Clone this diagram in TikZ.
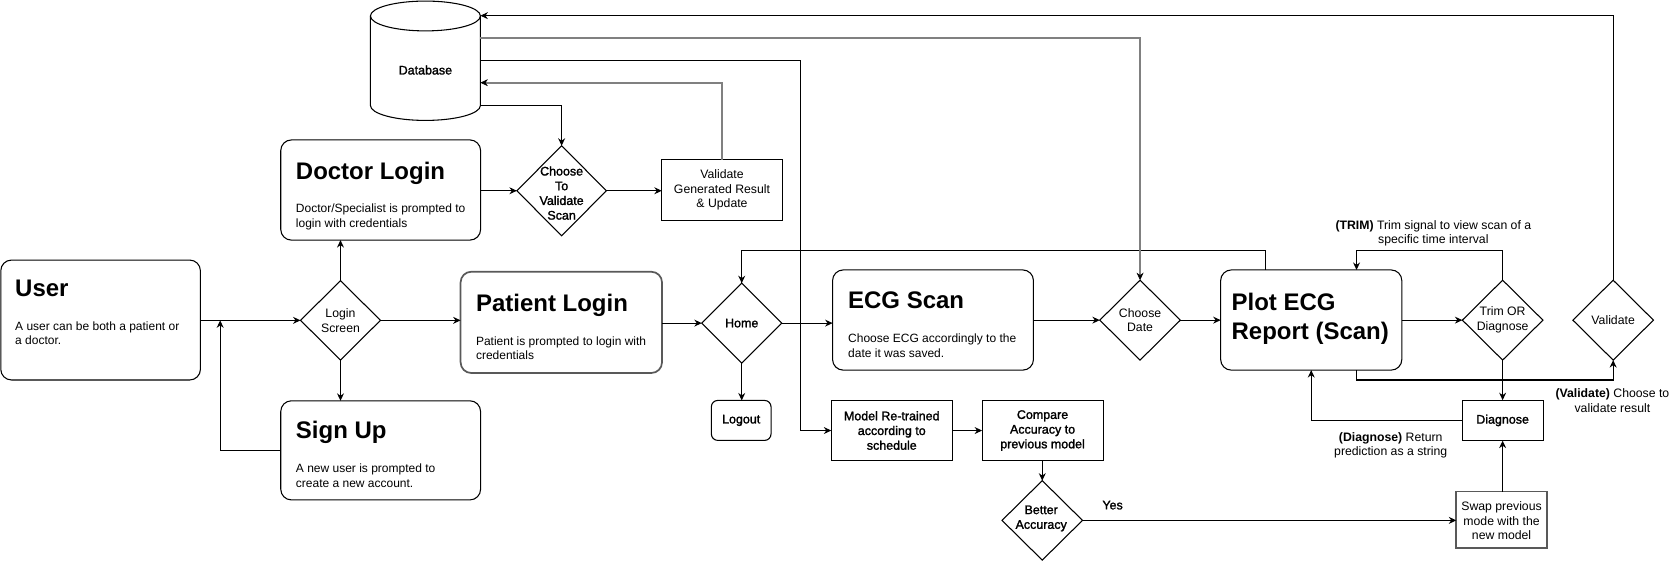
\documentclass[tikz,border=0pt]{standalone}
\usepackage{fontspec}
\setmainfont{Liberation Sans}
\newfontfamily\semibf[FakeBold=1.6]{Liberation Sans}
\usetikzlibrary{shapes.geometric,arrows.meta,calc}
\begin{document}
\begin{tikzpicture}[x=1pt,y=-1pt,
  ln/.style={line width=1pt, draw=black},
  gln/.style={line width=1.8pt, draw=black!50},
  arr/.style={ln, -{Stealth[length=7pt,width=6.5pt]}},
  garr/.style={gln, -{Stealth[length=7pt,width=6.5pt,black,line width=0.5pt]}},
  hbox/.style={draw, line width=1pt, rounded corners=10pt, inner sep=0pt, outer sep=0pt},
  pbox/.style={draw, line width=1pt, inner sep=0pt, outer sep=0pt},
  dia/.style={draw, diamond, line width=1pt, inner sep=0pt, outer sep=0pt},
  ttl/.style={font=\fontsize{22.5}{28}\selectfont\bfseries, inner sep=0pt, anchor=west, text height=16.1pt, text depth=0pt},
  bdy/.style={font=\fontsize{11.26}{13.5}\selectfont, inner sep=0pt, anchor=north west, align=left},
  lbl/.style={font=\fontsize{11.5}{13.8}\selectfont, inner sep=0pt, align=center},
  blbl/.style={font=\fontsize{11.7}{13.8}\selectfont\semibf, inner sep=0pt, align=center}
]
\useasboundingbox (0,0) rectangle (1568,526.4);
\fill[white] (0,0) rectangle (1568,526.4);

% ---------- Database cylinder ----------
\node[inner sep=0pt, outer sep=0pt, minimum width=103.2pt, minimum height=112pt] (db) at (399.2,57) {};
\draw[line width=1pt, fill=white] (db.north west |- 0,15) -- (db.south west |- 0,99)
  arc[start angle=180, end angle=360, x radius=51.6pt, y radius=14pt] -- (db.north east |- 0,15);
\draw[line width=1pt] (399.2,15) ellipse [x radius=51.6pt, y radius=14pt];
\node[blbl] (dbt) at (399.2,65.7) {Database};
\coordinate (dbA) at (450.8,14.7);
\coordinate (dbB) at (450.8,35.5);
\coordinate (dbC) at (450.8,56.6);
\coordinate (dbD) at (450.8,77.6);
\coordinate (dbE) at (450.8,99);

% ---------- heading boxes ----------
\node[hbox, minimum width=187.3pt, minimum height=112.5pt] (user) at (94.4,300.3) {};
\node[ttl] (usert) at (14.1,270.6) {User};
\node[bdy] (userb) at (14.1,301.8) {A user can be both a patient or\\a doctor.};

\node[hbox, minimum width=187.5pt, minimum height=94pt] (doc) at (357.2,178.3) {};
\node[ttl] (doct) at (277.5,160.2) {Doctor Login};
\node[bdy] (docb) at (277.5,191.4) {Doctor/Specialist is prompted to\\login with credentials};

\node[hbox, minimum width=187.5pt, minimum height=93pt] (sign) at (357.2,422.6) {};
\node[ttl] (signt) at (277.5,403.5) {Sign Up};
\node[bdy] (signb) at (277.5,435.4) {A new user is prompted to\\create a new account.};

\node[hbox, draw=black!65, line width=1.6pt, minimum width=189pt, minimum height=95pt] (pat) at (526.7,302.5) {};
\node[ttl] (patt) at (446.5,284.6) {Patient Login};
\node[bdy] (patb) at (446.5,315.9) {Patient is prompted to login with\\credentials};

\node[hbox, minimum width=188.5pt, minimum height=94pt] (ecg) at (875.5,300.3) {};
\node[ttl] (ecgt) at (795.7,281.6) {ECG Scan};
\node[bdy] (ecgb) at (795.7,313.4) {Choose ECG accordingly to the\\date it was saved.};

\node[hbox, minimum width=170pt, minimum height=94pt] (plot) at (1230.4,300.3) {};
\node[ttl] (plott1) at (1155.5,283.7) {Plot ECG};
\node[ttl] (plott2) at (1155.5,310.3) {Report (Scan)};

\node[hbox, rounded corners=6pt, minimum width=56pt, minimum height=37.5pt] (logout) at (695.5,394.5) {};
\node[blbl] (logoutt) at (logout) {Logout};

% ---------- plain boxes ----------
\node[pbox, minimum width=113pt, minimum height=56.5pt] (vgr) at (677.5,178.3) {};
\node[lbl] (vgrt) at (vgr) {Validate\\Generated Result\\\& Update};

\node[pbox, minimum width=113.5pt, minimum height=55.7pt] (model) at (836.8,404) {};
\node[blbl] (modelt) at (model) {Model Re-trained\\according to\\schedule};

\node[pbox, minimum width=113.5pt, minimum height=55.7pt] (comp) at (978.3,404) {};
\node[blbl] (compt) at (comp) {Compare\\Accuracy to\\previous model};

\node[pbox, minimum width=76pt, minimum height=38pt] (diag) at (1410,394.5) {};
\node[blbl] (diagt) at (diag) {Diagnose};

\node[pbox, draw=black!65, line width=1.5pt, minimum width=85pt, minimum height=53pt] (swap) at (1409,487.8) {};
\node[lbl] (swapt) at (1409,488.6) {Swap previous\\mode with the\\new model};

% ---------- diamonds ----------
\node[dia, minimum width=84pt, minimum height=84.5pt] (cv) at (527,179) {};
\node[blbl] (cvt) at (527,181.2) {Choose\\To\\Validate\\Scan};

\node[dia, minimum width=75pt, minimum height=74.5pt] (ls) at (319.5,300.6) {};
\node[lbl] (lst) at (ls) {Login\\Screen};

\node[dia, minimum width=75pt, minimum height=75pt] (home) at (696,303.2) {};
\node[blbl] (homet) at (home) {Home};

\node[dia, minimum width=75.6pt, minimum height=75pt] (cd) at (1069.8,300.4) {};
\node[lbl] (cdt) at (cd) {Choose\\Date};

\node[dia, minimum width=75.6pt, minimum height=75pt] (trim) at (1410,300.4) {};
\node[lbl] (trimt) at (trim) {Trim OR\\Diagnose};

\node[dia, minimum width=75.6pt, minimum height=75pt] (val) at (1513.7,300.4) {};
\node[lbl] (valt) at (val) {Validate};

\node[dia, minimum width=75.5pt, minimum height=74.6pt] (better) at (978,488.3) {};
\node[blbl] (bettert) at (977,486.5) {Better\\Accuracy};

% ---------- annotations ----------
\node[lbl] (trimnote) at (1345,219) {\textbf{(TRIM)} Trim signal to view scan of a\\specific time interval};
\node[lbl] (valnote) at (1513,375.8) {\textbf{(Validate)} Choose to\\validate result};
\node[lbl] (diagnote) at (1305,418) {\textbf{(Diagnose)} Return\\prediction as a string};
\node[blbl] (yes) at (1044,474) {Yes};

% ---------- connectors ----------
\coordinate (j1) at (206.6,300.6);
\draw[arr] (user.east |- ls.west) -- (ls.west);
\draw[arr] (sign.west) -| (j1);
\draw[arr] (ls.north) -- (ls.north |- doc.south);
\draw[arr] (ls.south) -- (ls.south |- sign.north);
\draw[arr] (ls.east) -- (ls.east -| pat.west);

\draw[arr] (doc.east |- cv.west) -- (cv.west);
\draw[arr] (cv.east) -- (cv.east -| vgr.west);
\draw[garr] (vgr.north) |- (dbD);
\draw[arr] (dbE) -| (cv.north);

\draw[arr] (pat.east |- home.west) -- (home.west);
\draw[arr] (home.south) -- (home.south |- logout.north);
\draw[arr] (home.east) -- (home.east -| ecg.west);
\draw[arr] (ecg.east |- cd.west) -- (cd.west);
\draw[arr] (cd.east) -- (cd.east -| plot.west);

\coordinate (pA) at ($(plot.north west)!0.25!(plot.north east)$);
\coordinate (pB) at ($(plot.north west)!0.75!(plot.north east)$);
\coordinate (pC) at ($(plot.south west)!0.75!(plot.south east)$);
\draw[ln] (pA) -- ++(0,-18.1) -| ([yshift=0.5pt]home.north);
\draw[arr] (home.north |- 0,240) -- (home.north);
\draw[arr] (plot.east |- trim.west) -- (trim.west);
\draw[arr] (trim.north) -- ++(0,-27.7) -| (pB);
\draw[arr] (trim.south) -- (diag.north);
\draw[arr] (diag.west) -| (plot.south);
\draw[arr] (pC) -- ++(0,9.3) -| (val.south);
\draw[arr] (val.north) |- (dbA);
\draw[garr] (dbB) -| (cd.north);
\draw[arr] (dbC) -| ($(model.west)+(-28.8,0)$) -- (model.west);

\draw[arr] (model.east) -- (comp.west);
\draw[arr] (comp.south -| better.north) -- (better.north);
\draw[arr] (better.east) -- (better.east -| swap.west);
\draw[arr] (swap.north -| diag.south) -- (diag.south);
\end{tikzpicture}
\end{document}
